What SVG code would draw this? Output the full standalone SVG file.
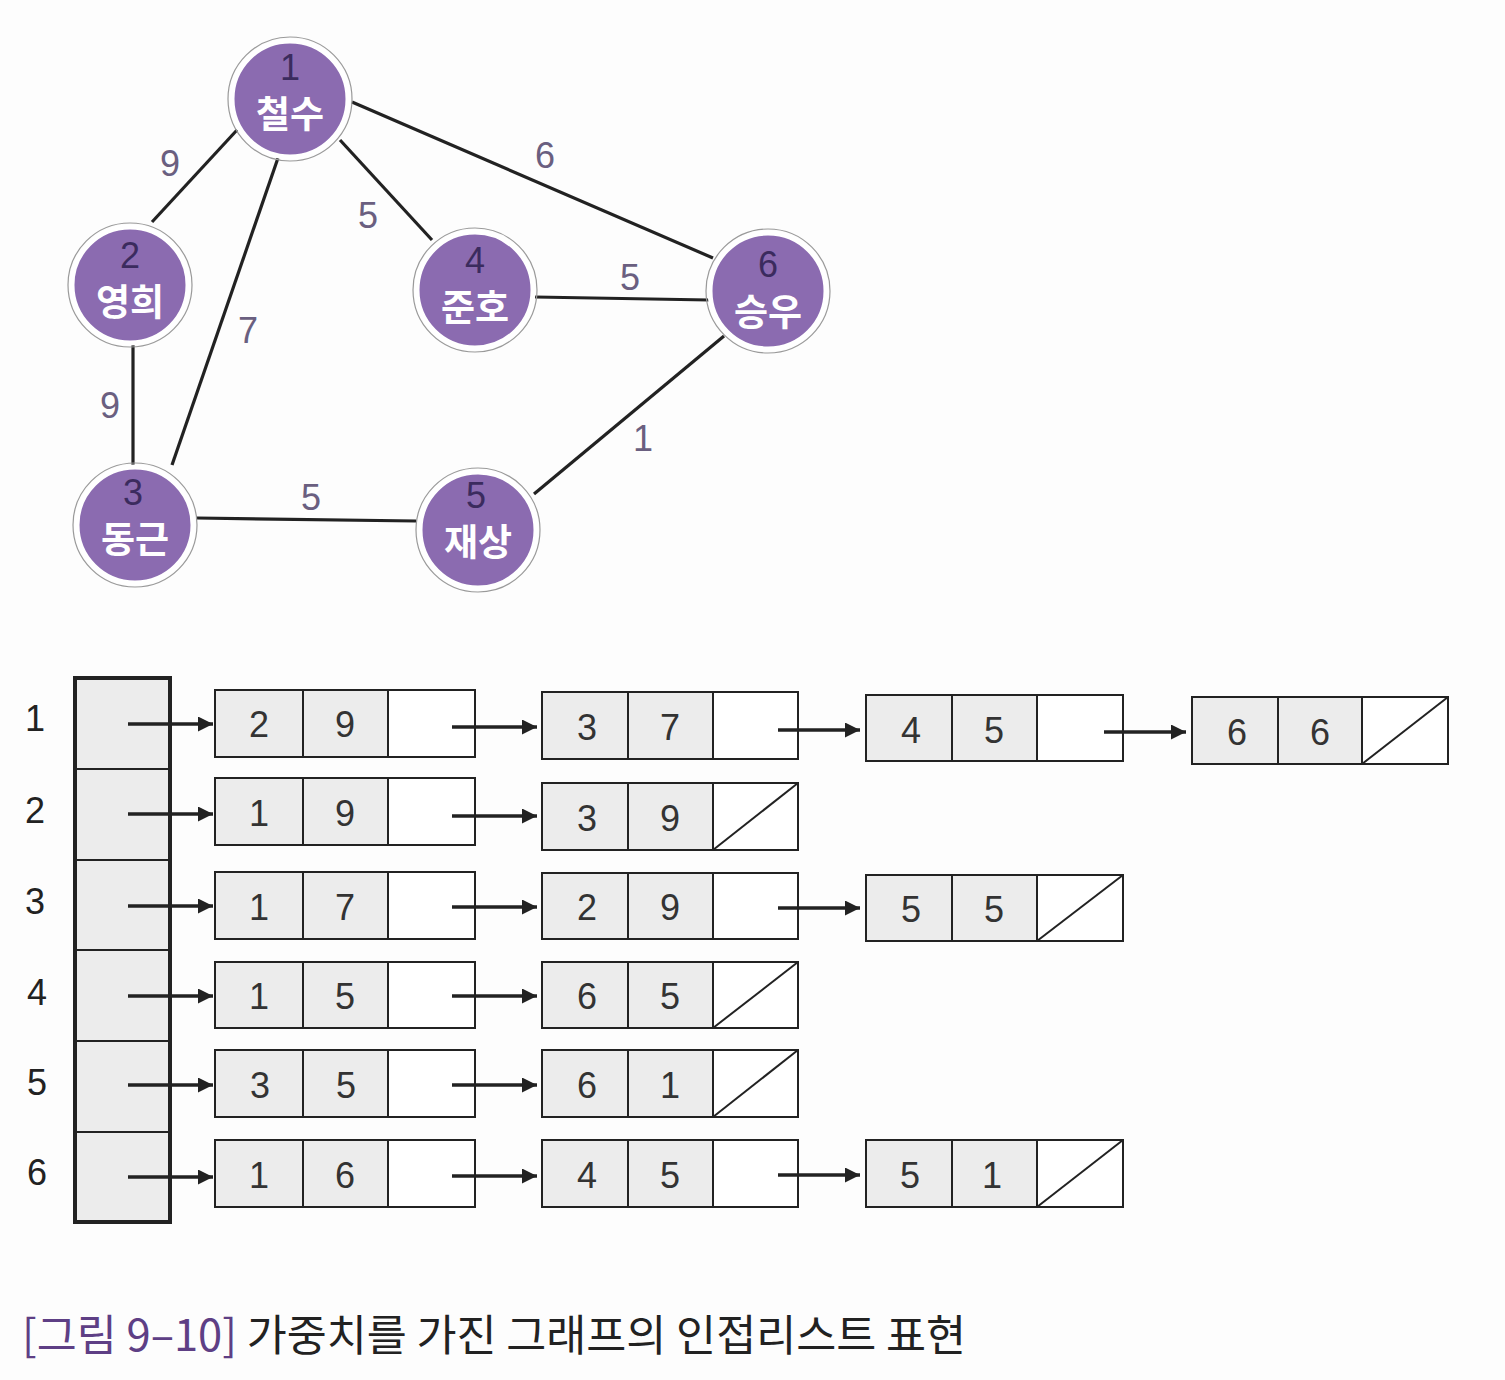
<svg xmlns="http://www.w3.org/2000/svg" width="1505" height="1380" viewBox="0 0 1505 1380">
<defs>
<marker id="ah" viewBox="0 0 10 10" refX="10" refY="5" markerWidth="22" markerHeight="15" markerUnits="userSpaceOnUse" orient="auto">
<path d="M0,0 L10,5 L0,10 z" fill="#222"/>
</marker>
</defs>
<style>
.bg{fill:#fdfdfd}
.circ{fill:#8b6bb0;stroke:#ffffff;stroke-width:5}
.ring{fill:none;stroke:#9a9a9a;stroke-width:1.2}
.num{font-family:"Liberation Sans",Arial,sans-serif;font-size:36px;fill:#3b2b5e;text-anchor:middle}
.name{font-family:"Noto Sans CJK KR",sans-serif;font-size:37px;font-weight:bold;fill:#ffffff;text-anchor:middle}
.edge{stroke:#222;stroke-width:3.2;fill:none}
.wl{font-family:"Liberation Sans",Arial,sans-serif;font-size:36px;fill:#6a5f80;text-anchor:middle}
.idx{font-family:"Liberation Sans",Arial,sans-serif;font-size:36px;fill:#222;text-anchor:middle}
.head{fill:#ececec;stroke:#222;stroke-width:4}
.hdiv{stroke:#222;stroke-width:2}
.dc{fill:#ececec;stroke:#222;stroke-width:2}
.pc{fill:#ffffff;stroke:#222;stroke-width:2}
.null{stroke:#222;stroke-width:2}
.val{font-family:"Liberation Sans",Arial,sans-serif;font-size:36px;fill:#333;text-anchor:middle}
.arr{stroke:#222;stroke-width:3.5;fill:none;marker-end:url(#ah)}
.cap1{font-family:"Noto Sans CJK KR",sans-serif;font-size:43.5px;fill:#5e3f85}
.cap2{font-family:"Noto Sans CJK KR",sans-serif;font-size:43.5px;fill:#222}
</style>
<rect class="bg" x="0" y="0" width="1505" height="1380"/>

<g id="edges">
<line class="edge" x1="237" y1="130" x2="152" y2="222"/>
<line class="edge" x1="278" y1="158" x2="172" y2="465"/>
<line class="edge" x1="340" y1="140" x2="432" y2="240"/>
<line class="edge" x1="352" y1="102" x2="713" y2="258"/>
<line class="edge" x1="133" y1="345" x2="133" y2="465"/>
<line class="edge" x1="197" y1="518" x2="416" y2="521"/>
<line class="edge" x1="535" y1="297" x2="709" y2="300"/>
<line class="edge" x1="534" y1="494" x2="724" y2="336"/>
<text class="wl" x="170" y="176">9</text>
<text class="wl" x="368" y="228">5</text>
<text class="wl" x="248" y="343">7</text>
<text class="wl" x="545" y="168">6</text>
<text class="wl" x="110" y="418">9</text>
<text class="wl" x="630" y="290">5</text>
<text class="wl" x="311" y="510">5</text>
<text class="wl" x="643" y="451">1</text>
</g>

<g id="node1">
<circle class="ring" cx="290" cy="99" r="62"/>
<circle class="circ" cx="290" cy="99" r="58"/>
<text class="num" x="290" y="80">1</text>
<text class="name" x="290" y="128">철수</text>
</g>
<g id="node2">
<circle class="ring" cx="130" cy="285" r="62"/>
<circle class="circ" cx="130" cy="285" r="58"/>
<text class="num" x="130" y="268">2</text>
<text class="name" x="130" y="316">영희</text>
</g>
<g id="node3">
<circle class="ring" cx="135" cy="525" r="62"/>
<circle class="circ" cx="135" cy="525" r="58"/>
<text class="num" x="133" y="505">3</text>
<text class="name" x="135" y="553">동근</text>
</g>
<g id="node4">
<circle class="ring" cx="475" cy="290" r="62"/>
<circle class="circ" cx="475" cy="290" r="58"/>
<text class="num" x="475" y="273">4</text>
<text class="name" x="475" y="321">준호</text>
</g>
<g id="node5">
<circle class="ring" cx="478" cy="530" r="62"/>
<circle class="circ" cx="478" cy="530" r="58"/>
<text class="num" x="476" y="508">5</text>
<text class="name" x="478" y="556">재상</text>
</g>
<g id="node6">
<circle class="ring" cx="768" cy="291" r="62"/>
<circle class="circ" cx="768" cy="291" r="58"/>
<text class="num" x="768" y="277">6</text>
<text class="name" x="768" y="326">승우</text>
</g>

<g id="index-labels">
<text class="idx" x="35" y="731">1</text>
<text class="idx" x="35" y="823">2</text>
<text class="idx" x="35" y="914">3</text>
<text class="idx" x="37" y="1005">4</text>
<text class="idx" x="37" y="1095">5</text>
<text class="idx" x="37" y="1185">6</text>
</g>

<g id="head-array">
<rect class="head" x="75" y="678" width="95" height="544"/>
<line class="hdiv" x1="75" y1="769" x2="170" y2="769"/>
<line class="hdiv" x1="75" y1="860" x2="170" y2="860"/>
<line class="hdiv" x1="75" y1="950" x2="170" y2="950"/>
<line class="hdiv" x1="75" y1="1041" x2="170" y2="1041"/>
<line class="hdiv" x1="75" y1="1132" x2="170" y2="1132"/>
</g>

<g id="list-nodes">
<g id="r1c1"><rect class="dc" x="215" y="690" width="88" height="67"/><rect class="dc" x="303" y="690" width="85" height="67"/><rect class="pc" x="388" y="690" width="87" height="67"/><text class="val" x="259" y="737">2</text><text class="val" x="345" y="737">9</text></g>
<g id="r1c2"><rect class="dc" x="542" y="692" width="86" height="67"/><rect class="dc" x="628" y="692" width="85" height="67"/><rect class="pc" x="713" y="692" width="85" height="67"/><text class="val" x="587" y="740">3</text><text class="val" x="670" y="740">7</text></g>
<g id="r1c3"><rect class="dc" x="866" y="695" width="86" height="66"/><rect class="dc" x="952" y="695" width="85" height="66"/><rect class="pc" x="1037" y="695" width="86" height="66"/><text class="val" x="911" y="743">4</text><text class="val" x="994" y="743">5</text></g>
<g id="r1c4"><rect class="dc" x="1192" y="697" width="86" height="67"/><rect class="dc" x="1278" y="697" width="84" height="67"/><rect class="pc" x="1362" y="697" width="86" height="67"/><line class="null" x1="1362" y1="764" x2="1448" y2="697"/><text class="val" x="1237" y="745">6</text><text class="val" x="1320" y="745">6</text></g>
<g id="r2c1"><rect class="dc" x="215" y="778" width="88" height="67"/><rect class="dc" x="303" y="778" width="85" height="67"/><rect class="pc" x="388" y="778" width="87" height="67"/><text class="val" x="259" y="826">1</text><text class="val" x="345" y="826">9</text></g>
<g id="r2c2"><rect class="dc" x="542" y="783" width="86" height="67"/><rect class="dc" x="628" y="783" width="85" height="67"/><rect class="pc" x="713" y="783" width="85" height="67"/><line class="null" x1="713" y1="850" x2="798" y2="783"/><text class="val" x="587" y="831">3</text><text class="val" x="670" y="831">9</text></g>
<g id="r3c1"><rect class="dc" x="215" y="872" width="88" height="67"/><rect class="dc" x="303" y="872" width="85" height="67"/><rect class="pc" x="388" y="872" width="87" height="67"/><text class="val" x="259" y="920">1</text><text class="val" x="345" y="920">7</text></g>
<g id="r3c2"><rect class="dc" x="542" y="873" width="86" height="66"/><rect class="dc" x="628" y="873" width="85" height="66"/><rect class="pc" x="713" y="873" width="85" height="66"/><text class="val" x="587" y="920">2</text><text class="val" x="670" y="920">9</text></g>
<g id="r3c3"><rect class="dc" x="866" y="875" width="86" height="66"/><rect class="dc" x="952" y="875" width="85" height="66"/><rect class="pc" x="1037" y="875" width="86" height="66"/><line class="null" x1="1037" y1="941" x2="1123" y2="875"/><text class="val" x="911" y="922">5</text><text class="val" x="994" y="922">5</text></g>
<g id="r4c1"><rect class="dc" x="215" y="962" width="88" height="66"/><rect class="dc" x="303" y="962" width="85" height="66"/><rect class="pc" x="388" y="962" width="87" height="66"/><text class="val" x="259" y="1009">1</text><text class="val" x="345" y="1009">5</text></g>
<g id="r4c2"><rect class="dc" x="542" y="962" width="86" height="66"/><rect class="dc" x="628" y="962" width="85" height="66"/><rect class="pc" x="713" y="962" width="85" height="66"/><line class="null" x1="713" y1="1028" x2="798" y2="962"/><text class="val" x="587" y="1009">6</text><text class="val" x="670" y="1009">5</text></g>
<g id="r5c1"><rect class="dc" x="215" y="1050" width="88" height="67"/><rect class="dc" x="303" y="1050" width="85" height="67"/><rect class="pc" x="388" y="1050" width="87" height="67"/><text class="val" x="260" y="1098">3</text><text class="val" x="346" y="1098">5</text></g>
<g id="r5c2"><rect class="dc" x="542" y="1050" width="86" height="67"/><rect class="dc" x="628" y="1050" width="85" height="67"/><rect class="pc" x="713" y="1050" width="85" height="67"/><line class="null" x1="713" y1="1117" x2="798" y2="1050"/><text class="val" x="587" y="1098">6</text><text class="val" x="670" y="1098">1</text></g>
<g id="r6c1"><rect class="dc" x="215" y="1140" width="88" height="67"/><rect class="dc" x="303" y="1140" width="85" height="67"/><rect class="pc" x="388" y="1140" width="87" height="67"/><text class="val" x="259" y="1188">1</text><text class="val" x="345" y="1188">6</text></g>
<g id="r6c2"><rect class="dc" x="542" y="1140" width="86" height="67"/><rect class="dc" x="628" y="1140" width="85" height="67"/><rect class="pc" x="713" y="1140" width="85" height="67"/><text class="val" x="587" y="1188">4</text><text class="val" x="670" y="1188">5</text></g>
<g id="r6c3"><rect class="dc" x="866" y="1140" width="86" height="67"/><rect class="dc" x="952" y="1140" width="85" height="67"/><rect class="pc" x="1037" y="1140" width="86" height="67"/><line class="null" x1="1037" y1="1207" x2="1123" y2="1140"/><text class="val" x="910" y="1188">5</text><text class="val" x="992" y="1188">1</text></g>
</g>

<g id="connectors">
<line class="arr" x1="128" y1="724" x2="213" y2="724"/>
<line class="arr" x1="128" y1="814" x2="213" y2="814"/>
<line class="arr" x1="128" y1="906" x2="213" y2="906"/>
<line class="arr" x1="128" y1="996" x2="213" y2="996"/>
<line class="arr" x1="128" y1="1085" x2="213" y2="1085"/>
<line class="arr" x1="128" y1="1177" x2="213" y2="1177"/>
<line class="arr" x1="452" y1="727" x2="537" y2="727"/>
<line class="arr" x1="452" y1="816" x2="537" y2="816"/>
<line class="arr" x1="452" y1="907" x2="537" y2="907"/>
<line class="arr" x1="452" y1="996" x2="537" y2="996"/>
<line class="arr" x1="452" y1="1085" x2="537" y2="1085"/>
<line class="arr" x1="452" y1="1176" x2="537" y2="1176"/>
<line class="arr" x1="778" y1="730" x2="860" y2="730"/>
<line class="arr" x1="778" y1="908" x2="860" y2="908"/>
<line class="arr" x1="778" y1="1175" x2="860" y2="1175"/>
<line class="arr" x1="1104" y1="732" x2="1186" y2="732"/>
</g>

<g id="caption">
<text x="22" y="1351"><tspan class="cap1">[그림 9–10]</tspan><tspan class="cap2"> 가중치를 가진 그래프의 인접리스트 표현</tspan></text>
</g>
</svg>
